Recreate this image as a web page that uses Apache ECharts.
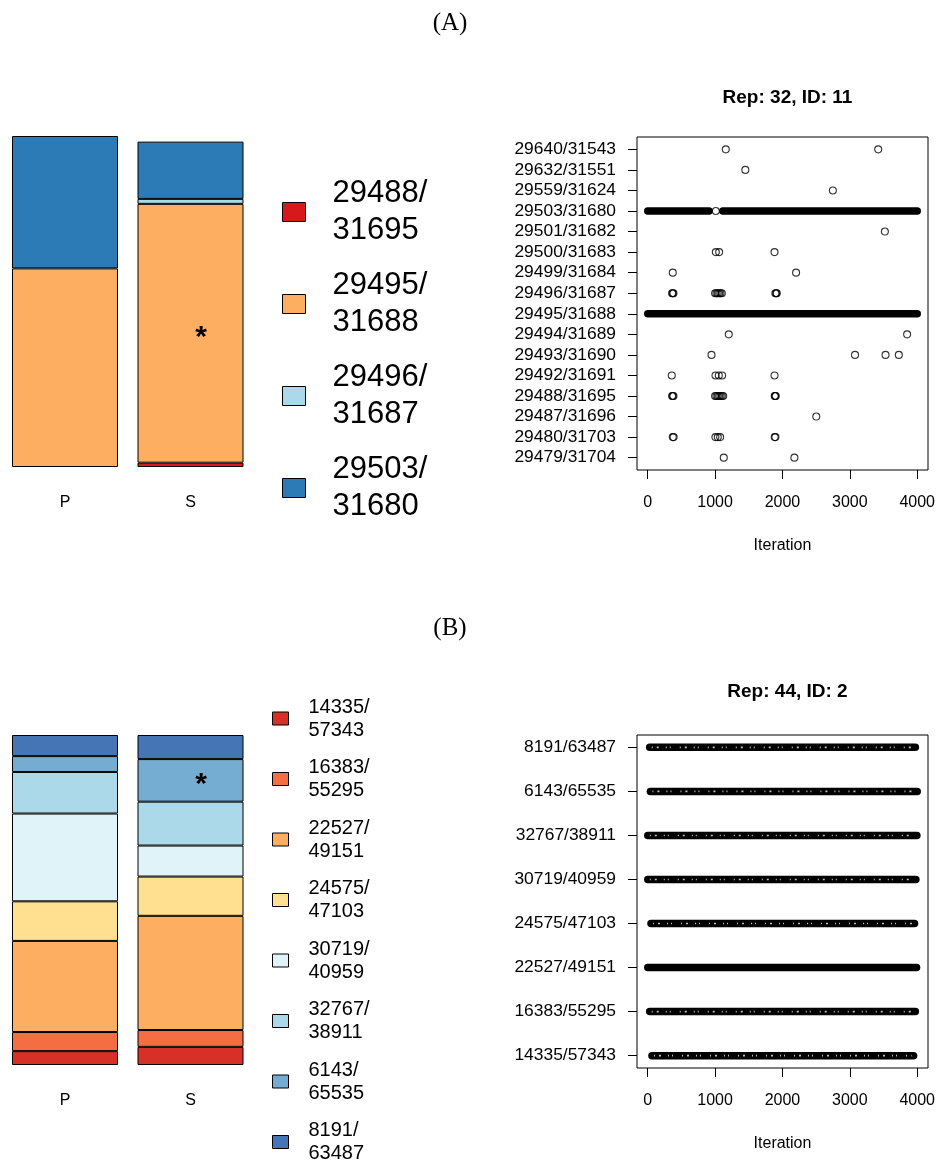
<!DOCTYPE html>
<html><head><meta charset="utf-8">
<script src="https://cdn.jsdelivr.net/npm/echarts@6/dist/echarts.min.js"></script>
<style>html,body{margin:0;padding:0;background:#fff}#c{width:940px;height:1168px}</style>
</head><body><div id="c"></div>
<script>
// ---------- DATA ----------
const barCats = ['P', 'S'];

// Panel A: stacked proportions
const A_states = ['29488/31695', '29495/31688', '29496/31687', '29503/31680'];
const A_colors = ['#D7191C', '#FDAE61', '#ABD9E9', '#2C7BB6'];
const A_P = [null, 0.60, null, 0.40];
const A_S = [0.013, 0.782, 0.015, 0.173];
const A_star = '29495/31688';

// Panel A: trace plot rows (bottom to top)
const A_rows = ['29479/31704', '29480/31703', '29487/31696', '29488/31695', '29492/31691',
  '29493/31690', '29494/31689', '29495/31688', '29496/31687', '29499/31684', '29500/31683',
  '29501/31682', '29503/31680', '29559/31624', '29632/31551', '29640/31543'];
// isolated visits (iterations) per row, same order as A_rows
const A_points = [
  [1129, 2177],
  [372, 385, 1005, 1040, 1075, 1885, 1895],
  [2502],
  [362, 372, 382, 1000, 1020, 1040, 1060, 1080, 1100, 1120, 1885, 1892, 1900],
  [357, 1006, 1055, 1104, 1882],
  [947, 3077, 3530, 3727],
  [1203, 3850],
  [],
  [362, 372, 382, 1000, 1020, 1040, 1060, 1080, 1100, 1895, 1907, 1915],
  [372, 2202],
  [1011, 1060, 1882],
  [3520],
  [1011],
  [2748],
  [1449],
  [1159, 3421]
];
// dense runs of consecutive visits [first, last] per row
const A_runs = [[], [], [], [], [], [], [], [[1, 4000]], [], [], [], [],
  [[1, 910], [1115, 4000]], [], [], []];

// Panel B: stacked proportions
const B_states = ['14335/57343', '16383/55295', '22527/49151', '24575/47103',
  '30719/40959', '32767/38911', '6143/65535', '8191/63487'];
const B_colors = ['#D73027', '#F46D43', '#FDAE61', '#FEE090', '#E0F3F8', '#ABD9E9', '#74ADD1', '#4575B4'];
const B_P = [0.042, 0.058, 0.276, 0.120, 0.266, 0.126, 0.048, 0.064];
const B_S = [0.055, 0.051, 0.346, 0.119, 0.094, 0.133, 0.129, 0.073];
const B_star = '6143/65535';

// Panel B: trace plot rows (bottom to top) and their dense runs
const B_rows = ['14335/57343', '16383/55295', '22527/49151', '24575/47103',
  '30719/40959', '32767/38911', '6143/65535', '8191/63487'];
const B_runs = [[[63, 3946]], [[30, 3972]], [[1, 3990]], [[49, 3960]],
  [[1, 3980]], [[1, 3995]], [[40, 4000]], [[30, 3972]]];
const B_sparseRows = [true, true, false, true, true, true, true, true];

const xTicks = [0, 1000, 2000, 3000, 4000];

// ---------- CHART ----------
const SANS = '"Liberation Sans", Arial, Helvetica, sans-serif';
const SERIF = '"Liberation Serif", "Times New Roman", serif';

function barSeries(states, colors, P, S, star, gi, stack) {
  return states.map((st, i) => ({
    name: st, type: 'bar', stack: stack, xAxisIndex: gi, yAxisIndex: gi,
    barWidth: 106,
    itemStyle: { color: colors[i], borderColor: '#000', borderWidth: 1 },
    data: [P[i], st === star ? {
      value: S[i],
      label: { show: true, position: 'inside', formatter: '*', offset: [10.5, 4],
        fontSize: 30, fontWeight: 'bold', color: '#000', fontFamily: SANS }
    } : S[i]]
  }));
}

function traceSeries(rows, points, runs, gi, tag, texture) {
  const out = [];
  runs.forEach((rr, i) => rr.forEach((r, k) => {
    out.push({
      name: tag + ' run ' + i + '-' + k, type: 'line', xAxisIndex: gi, yAxisIndex: gi,
      symbol: 'none', silent: true,
      lineStyle: { color: '#000', width: 7.5, cap: 'round' },
      data: [[r[0], i + 1], [r[1], i + 1]]
    });
    if (texture && texture[i]) {
      out.push({
        name: tag + ' tex ' + i + '-' + k, type: 'line', xAxisIndex: gi, yAxisIndex: gi,
        symbol: 'none', silent: true, z: 3,
        lineStyle: { color: 'rgba(255,255,255,0.75)', width: 1.6, type: [1, 4, 2, 7, 1, 3, 1, 9], cap: 'butt' },
        data: [[r[0] + 30, i + 1], [r[1] - 30, i + 1]]
      });
    }
  }));
  if (points) {
    const d = [];
    points.forEach((pp, i) => pp.forEach(v => d.push([v, i + 1])));
    out.push({
      name: tag + ' points', type: 'scatter', xAxisIndex: gi, yAxisIndex: gi,
      symbol: 'circle', symbolSize: 7, silent: true,
      itemStyle: { color: 'rgba(255,255,255,0)', borderColor: '#000', borderWidth: 1.1 },
      data: d
    });
  }
  return out;
}

function traceX(gi) {
  return {
    type: 'value', gridIndex: gi, min: -159, max: 4160,
    axisLine: { show: false, onZero: false }, splitLine: { show: false },
    axisTick: { show: true, length: 9, customValues: xTicks, lineStyle: { color: '#000' } },
    axisLabel: { customValues: xTicks, margin: 25, fontSize: 16, color: '#000', fontFamily: SANS,
      formatter: v => String(v) },
    name: 'Iteration', nameLocation: 'middle', nameGap: 68,
    nameTextStyle: { fontSize: 16, color: '#000', fontFamily: SANS }
  };
}
function traceY(gi, rows) {
  const vals = rows.map((r, i) => i + 1);
  const ext = (rows.length - 1) * 0.04;
  return {
    type: 'value', gridIndex: gi, min: 1 - ext, max: rows.length + ext,
    axisLine: { show: false, onZero: false }, splitLine: { show: false },
    axisTick: { show: true, length: 9, customValues: vals, lineStyle: { color: '#000' } },
    axisLabel: { customValues: vals, margin: 21, fontSize: 17.4, color: '#000', fontFamily: SANS,
      formatter: v => rows[Math.round(v) - 1] }
  };
}
function barX(gi) {
  return {
    type: 'category', gridIndex: gi, data: barCats,
    axisLine: { show: false }, axisTick: { show: false },
    axisLabel: { margin: 28, fontSize: 16, color: '#000', fontFamily: SANS }
  };
}
function barY(gi) {
  return { type: 'value', gridIndex: gi, min: 0, max: 1, show: false, splitLine: { show: false } };
}

function legend(states, left, top, iw, ih, gap, fs, lh, pad) {
  return {
    data: states, orient: 'vertical', left: left, top: top, padding: 0,
    itemWidth: iw, itemHeight: ih, itemGap: gap, icon: 'rect', selectedMode: false,
    itemStyle: { borderColor: '#000', borderWidth: 1 },
    formatter: n => n.replace('/', '/\n'),
    textStyle: { fontSize: fs, lineHeight: lh, color: '#000', fontFamily: SANS, padding: pad }
  };
}

const option = {
  animation: false,
  backgroundColor: '#fff',
  title: [
    { text: '(A)', left: 445, top: 6, textAlign: 'center',
      textStyle: { fontFamily: SERIF, fontSize: 25, fontWeight: 'normal', color: '#000' } },
    { text: '(B)', left: 445, top: 611, textAlign: 'center',
      textStyle: { fontFamily: SERIF, fontSize: 25, fontWeight: 'normal', color: '#000' } },
    { text: 'Rep: 32, ID: 11', left: 782.5, top: 83, textAlign: 'center',
      textStyle: { fontFamily: SANS, fontSize: 19, fontWeight: 'bold', color: '#000' } },
    { text: 'Rep: 44, ID: 2', left: 782.5, top: 677, textAlign: 'center',
      textStyle: { fontFamily: SANS, fontSize: 19, fontWeight: 'bold', color: '#000' } }
  ],
  legend: [
    legend(A_states, 282, 169, 23, 19, 6, 31, 37, [12, 0, 0, 22]),
    legend(B_states, 272, 693.5, 16, 13, 10.5, 20, 23, [4, 0, 0, 15])
  ],
  grid: [
    { left: 2.25, top: 136, width: 251, height: 331 },
    { left: 637, top: 137, width: 291, height: 333, show: true, borderColor: '#000', borderWidth: 1 },
    { left: 2.25, top: 735, width: 251, height: 330 },
    { left: 637, top: 735, width: 291, height: 333, show: true, borderColor: '#000', borderWidth: 1 }
  ],
  xAxis: [barX(0), traceX(1), barX(2), traceX(3)],
  yAxis: [barY(0), traceY(1, A_rows), barY(2), traceY(3, B_rows)],
  series: [].concat(
    barSeries(A_states, A_colors, A_P, A_S, A_star, 0, 'A'),
    traceSeries(A_rows, A_points, A_runs, 1, 'A', null),
    barSeries(B_states, B_colors, B_P, B_S, B_star, 2, 'B'),
    traceSeries(B_rows, null, B_runs, 3, 'B', B_sparseRows)
  )
};

const chart = echarts.init(document.getElementById('c'), null, { renderer: 'canvas' });
chart.setOption(option);
</script>
</body></html>
